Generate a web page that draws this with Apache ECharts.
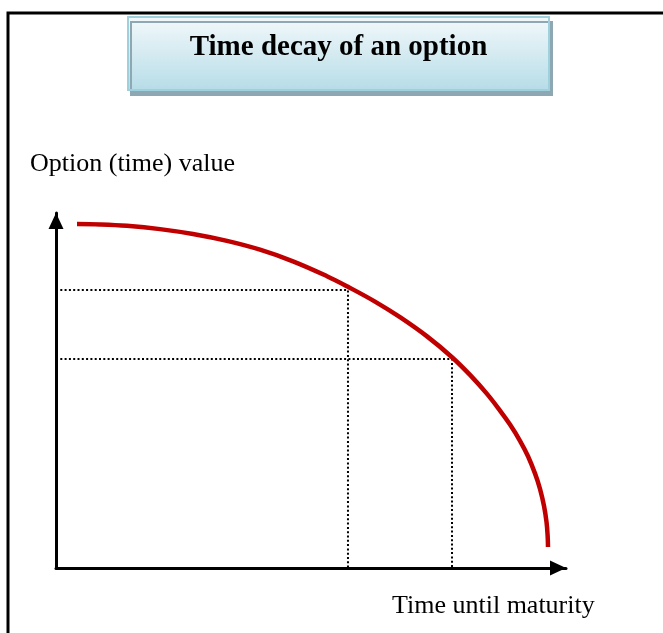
<!DOCTYPE html>
<html>
<head>
<meta charset="utf-8">
<script src="https://cdn.jsdelivr.net/npm/echarts@6/dist/echarts.min.js"></script>
<style>
html,body{margin:0;padding:0;background:#fff;}
#chart{width:663px;height:633px;}
</style>
</head>
<body>
<div id="chart"></div>
<script>
// ---- data ----
const titleText = 'Time decay of an option';
const yAxisLabel = 'Option (time) value';
const xAxisLabel = 'Time until maturity';

// option time value curve (time until maturity on x, value on y), axis range 0..10
const curveX = [0.412, 0.863, 1.392, 2.039, 2.686, 3.353, 4.000, 4.647, 5.314, 5.725, 6.255, 6.745, 7.275, 7.765, 8.118, 8.451, 8.706, 8.902, 9.098, 9.255, 9.392, 9.490, 9.569, 9.618, 9.641, 9.647];
const curveY = [9.690, 9.679, 9.639, 9.546, 9.408, 9.214, 8.966, 8.639, 8.220, 7.921, 7.504, 7.065, 6.524, 5.938, 5.439, 4.904, 4.434, 4.039, 3.583, 3.149, 2.665, 2.231, 1.746, 1.293, 0.879, 0.592];

// two reference points projected onto the axes with dotted lines
const refX = [5.725, 7.765];
const refY = [7.831, 5.887];

const axisMin = 0;
const axisMax = 10;

// ---- chart ----
const chart = echarts.init(document.getElementById('chart'), null, {renderer: 'canvas'});

const curveData = curveX.map((x, i) => [x, curveY[i]]);
const dottedSeries = refX.map((x, i) => ({
  type: 'line',
  data: [[axisMin, refY[i]], [x, refY[i]], [x, axisMin]],
  symbol: 'none',
  z: 2,
  silent: true,
  lineStyle: {color: '#000', width: 2, type: [2, 2.3]}
}));

const axisCommon = {
  type: 'value',
  min: axisMin,
  max: axisMax,
  axisLabel: {show: false},
  axisTick: {show: false},
  splitLine: {show: false},
  axisLine: {
    show: true,
    onZero: false,
    symbol: ['none', 'triangle'],
    symbolSize: [15, 16],
    symbolOffset: [0, -8],
    lineStyle: {color: '#000', width: 3}
  }
};

chart.setOption({
  animation: false,
  backgroundColor: '#fff',
  grid: {left: 56, right: 97, top: 213, bottom: 65, containLabel: false},
  xAxis: axisCommon,
  yAxis: axisCommon,
  series: [
    ...dottedSeries,
    {
      type: 'line',
      data: curveData,
      symbol: 'none',
      smooth: 0.4,
      z: 5,
      lineStyle: {color: '#C00000', width: 4.5, cap: 'butt'}
    }
  ],
  graphic: [
    {
      type: 'rect',
      shape: {x: 8, y: 13, width: 800, height: 800},
      style: {fill: 'none', stroke: '#000', lineWidth: 3},
      z: 100
    },
    {
      type: 'rect',
      shape: {x: 128, y: 17, width: 421, height: 73},
      style: {
        fill: new echarts.graphic.LinearGradient(0, 0, 0, 1, [
          {offset: 0, color: '#f3f9fb'},
          {offset: 1, color: '#b6dce7'}
        ]),
        stroke: '#9fd0de',
        lineWidth: 2,
        shadowColor: '#8ea8b3',
        shadowOffsetX: 3,
        shadowOffsetY: 5,
        shadowBlur: 0
      },
      z: 101
    },
    {
      type: 'text',
      x: 338.5,
      y: 48,
      style: {
        text: titleText,
        font: 'bold 29px "Liberation Serif", "Times New Roman", serif',
        fill: '#000',
        align: 'center',
        verticalAlign: 'middle'
      },
      z: 102
    },
    {
      type: 'text',
      x: 30,
      y: 164,
      style: {
        text: yAxisLabel,
        font: '26px "Liberation Serif", "Times New Roman", serif',
        fill: '#000',
        align: 'left',
        verticalAlign: 'middle'
      },
      z: 102
    },
    {
      type: 'text',
      x: 392,
      y: 606,
      style: {
        text: xAxisLabel,
        font: '26px "Liberation Serif", "Times New Roman", serif',
        fill: '#000',
        align: 'left',
        verticalAlign: 'middle'
      },
      z: 102
    }
  ]
});
</script>
</body>
</html>
